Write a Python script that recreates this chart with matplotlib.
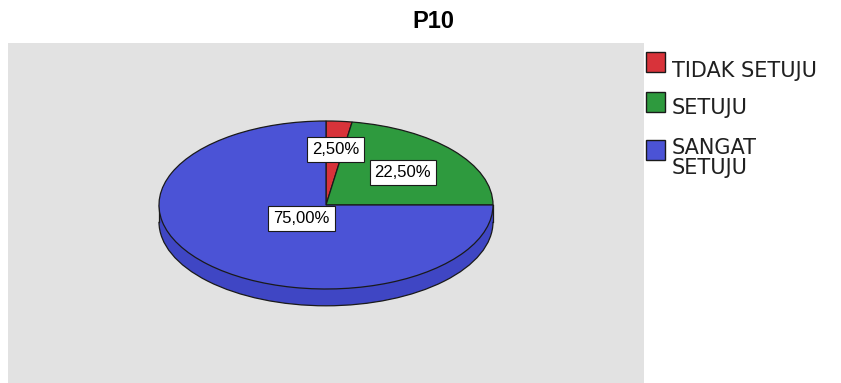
import numpy as np
import matplotlib
matplotlib.use('Agg')
import matplotlib.pyplot as plt
from matplotlib.patches import Rectangle, Circle, Arc

categories = ['TIDAK SETUJU', 'SETUJU', 'SANGAT\nSETUJU']
percentages = [2.5, 22.5, 75.0]
colors = ['#d8333a', '#2e9a3e', '#4b53d6']
label_pos = [(0.057, 0.655), (0.46, 0.39), (-0.146, -0.155)]

side_color = '#3f46c4'
edge = '#1a1a1a'
thick = 0.2

fig = plt.figure(figsize=(8.41, 3.83), dpi=100)
ax = fig.add_axes([8 / 841, 0, 636 / 841, 340 / 383])

# base of the disc (only the front half shows)
ax.add_patch(Circle((0, -thick), 1, facecolor=side_color, edgecolor='none', zorder=1))
ax.add_patch(Rectangle((-1, -thick), 2, thick, facecolor=side_color, edgecolor='none', zorder=1))
ax.add_patch(Arc((0, -thick), 2, 2, theta1=180, theta2=360, color=edge, lw=0.9, zorder=2))
ax.plot([-1, -1], [0, -thick], color=edge, lw=0.9, zorder=2)
ax.plot([1, 1], [0, -thick], color=edge, lw=0.9, zorder=2)

wedges, _ = ax.pie(percentages, colors=colors, startangle=90, counterclock=False,
                   wedgeprops=dict(edgecolor=edge, linewidth=0.9, zorder=3))
for w in wedges:
    w.set_zorder(3)

for (x, y), p in zip(label_pos, percentages):
    ax.text(x, y, ('%.2f%%' % p).replace('.', ','), ha='center', va='center',
            fontsize=12, family='Liberation Sans', zorder=5,
            bbox=dict(boxstyle='square,pad=0.3', facecolor='white', edgecolor=edge, linewidth=0.8))

ax.set_aspect('auto')
ax.set_xlim(-1.904, 1.904)
ax.set_ylim(-(340 - 162) / 84, 162 / 84)
ax.set_frame_on(True)
for s in ax.spines.values():
    s.set_visible(False)
ax.set_facecolor('#e2e2e2')
ax.set_xticks([])
ax.set_yticks([])

fig.text(433 / 841, 1 - 22 / 383, 'P10', ha='center', va='center', fontsize=17,
         fontweight='bold', family='Liberation Sans')

# legend
leg_y = [62, 102, 150]
text_y = [71, 108, 158]
for c, lab, ly, ty in zip(colors, categories, leg_y, text_y):
    fig.patches.append(Rectangle((646 / 841, 1 - (ly + 10) / 383), 19 / 841, 20 / 383,
                                 transform=fig.transFigure, facecolor=c,
                                 edgecolor=edge, linewidth=1.0))
    fig.text(672 / 841, 1 - ty / 383, lab, ha='left', va='center', fontsize=15,
             linespacing=1.0, color='#202020')

fig.savefig('out.png', dpi=100, facecolor='white')
